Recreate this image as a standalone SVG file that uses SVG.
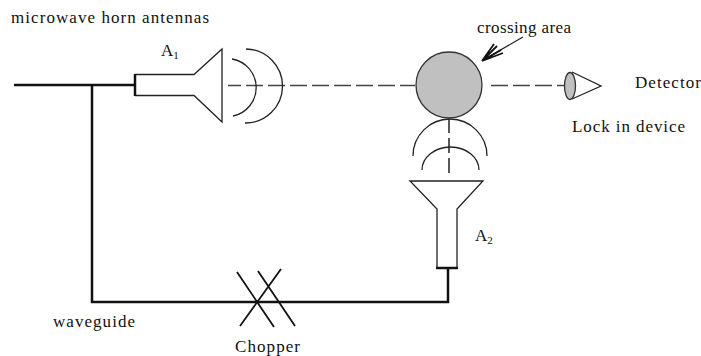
<svg xmlns="http://www.w3.org/2000/svg" width="701" height="356" viewBox="0 0 701 356">
<style>
text{font-family:"Liberation Serif","Times New Roman",serif;font-size:17px;fill:#111}
.sub{font-size:11px}
.l{fill:none;stroke:#222;stroke-width:1.3}
.t{fill:none;stroke:#111;stroke-width:2.5}
.m{fill:none;stroke:#111;stroke-width:1.8}
.d{fill:none;stroke:#444;stroke-width:1.5;stroke-dasharray:17 5}
</style>
<rect width="701" height="356" fill="#fff"/>
<g id="connectors">
<path class="t" d="M14 85H135M92 85V302H448V268"/>
<path class="d" stroke-dashoffset="4" d="M228 85.500H415"/>
<path class="d" d="M491 85.500H566"/>
<path class="d" style="stroke-dasharray:15 5;stroke:#222" d="M449 118V175"/>
</g>
<g id="antenna-a1">
<path class="l" d="M135 74.500H194L222 49V122L194 95.500H135"/>
<path class="t" d="M135 74V96"/>
<path class="l" d="M232 59A29 29 0 0 1 233 116"/>
<path class="l" d="M246 49A37 37 0 0 1 245 123"/>
<text x="161" y="56">A<tspan class="sub" dy="3">1</tspan></text>
</g>
<g id="antenna-a2">
<path class="l" d="M437 268V209L410 181H483L457 209V268"/>
<path class="t" d="M436 268H458"/>
<path class="l" d="M413 156A37 37 0 0 1 487 156"/>
<path class="l" d="M422 170A28.500 23 0 0 1 479 170"/>
<text x="475" y="241">A<tspan class="sub" dy="3">2</tspan></text>
</g>
<g id="crossing-area">
<circle cx="449" cy="85" r="33" fill="#c0c0c0" stroke="#333" stroke-width="1.3"/>
<path class="l" d="M523 37L483 60"/>
<path class="m" d="M482 61L497 46M482 61L501 50M482 61L494 44M482 61L503 53"/>
<text x="477" y="33" textLength="94" lengthAdjust="spacing">crossing area</text>
</g>
<g id="detector">
<path class="l" d="M572 72L601 86L572 99"/>
<ellipse cx="570" cy="86" rx="5.500" ry="13.500" fill="#c0c0c0" stroke="#333" stroke-width="1.300"/>
<text x="635" y="88" textLength="66" lengthAdjust="spacing">Detector</text>
<text x="572" y="132" textLength="113" lengthAdjust="spacing">Lock in device</text>
</g>
<g id="chopper">
<path class="m" d="M237 272L274 327M258 271L295 326M281 269L240 326"/>
<text x="235" y="352" textLength="65" lengthAdjust="spacing">Chopper</text>
</g>
<g id="labels">
<text x="11" y="23" textLength="198" lengthAdjust="spacing">microwave horn antennas</text>
<text x="53" y="327" textLength="82" lengthAdjust="spacing">waveguide</text>
</g>
</svg>
